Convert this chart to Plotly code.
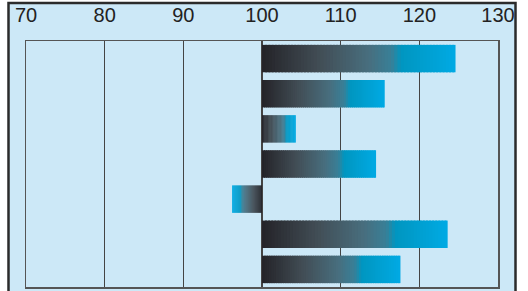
import plotly.graph_objects as go

categories = ["A", "B", "C", "D", "E", "F", "G"]
values = [124.6, 115.6, 104.3, 114.5, 96.2, 123.6, 117.6]
baseline = 100
tick_vals = [70, 80, 90, 100, 110, 120, 130]

stops = [(0.0, (36, 35, 40)), (0.3, (66, 78, 86)), (0.55, (72, 110, 126)),
         (0.67, (56, 128, 152)), (0.72, (0, 150, 192)), (1.0, (0, 170, 228))]

def grad(t):
    for (t0, c0), (t1, c1) in zip(stops[:-1], stops[1:]):
        if t <= t1:
            f = (t - t0) / (t1 - t0) if t1 > t0 else 0
            return "rgb(%d,%d,%d)" % tuple(round(a + (b - a) * f) for a, b in zip(c0, c1))
    return "rgb(%d,%d,%d)" % stops[-1][1]

N = 60
ys, bases, lens, cols = [], [], [], []
for i, v in enumerate(values):
    d = v - baseline
    for k in range(N):
        b = baseline + d * k / N
        e = baseline + d * min(k + 1.6, N) / N
        ys.append(i)
        bases.append(b)
        lens.append(e - b)
        cols.append(grad((k + 0.5) / N))

fig = go.Figure(go.Bar(
    y=ys, x=lens, base=bases, orientation="h", width=0.78,
    marker=dict(color=cols, line=dict(width=0)), hoverinfo="skip",
))

W, H = 528, 291
L, R, T, B = 26, 30, 41, 4
pw, ph = W - L - R, H - T - B
def px(x): return (x - L) / pw
def py(y): return 1 - (y - T) / ph

fig.add_shape(type="rect", xref="paper", yref="paper",
              x0=px(8.5), x1=px(515.5), y0=py(300), y1=py(3),
              fillcolor="#cce8f7", line=dict(color="#2b2b2b", width=2.5), layer="below")

fig.update_layout(
    width=W, height=H, margin=dict(l=L, r=R, t=T, b=B, autoexpand=False),
    paper_bgcolor="white", plot_bgcolor="#cce8f7",
    barmode="overlay", showlegend=False,
    font=dict(family="Liberation Sans, Arial, sans-serif", size=20, color="#222"),
    xaxis=dict(range=[70, 130], side="top", tickvals=tick_vals,
               ticks="outside", ticklen=10, tickcolor="rgba(0,0,0,0)",
               showgrid=True, gridcolor="#444", gridwidth=1.3,
               showline=True, linecolor="#555", linewidth=1.5, mirror=True,
               zeroline=False, fixedrange=True, automargin=False),
    yaxis=dict(range=[6.5, -0.5], showticklabels=False, showgrid=False,
               zeroline=False, showline=True, linecolor="#555", linewidth=1.5,
               mirror=True, ticks="", fixedrange=True, automargin=False),
)

fig.write_html("out.html", config={"displayModeBar": False, "staticPlot": True},
               post_script="document.body.style.margin='0';document.body.style.overflow='hidden';")
